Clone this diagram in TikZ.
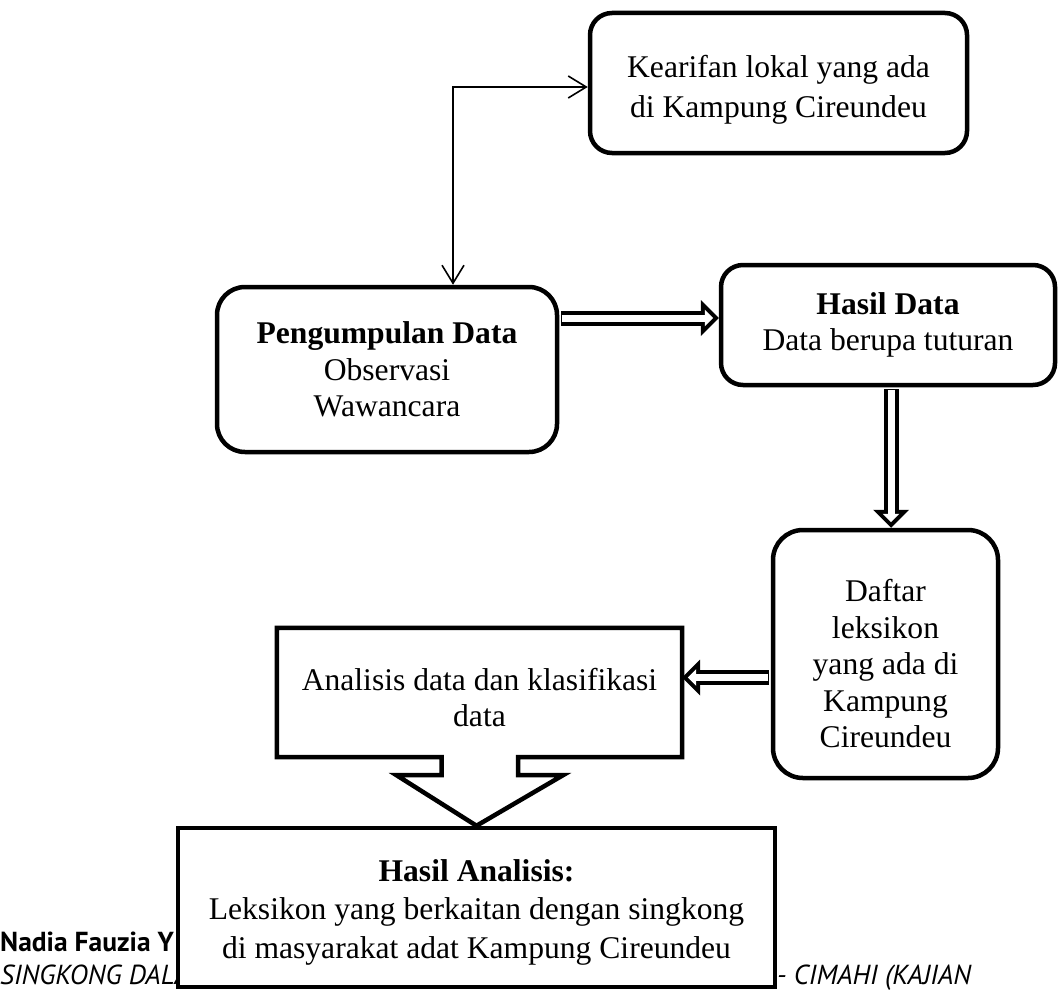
\documentclass[tikz,border=0pt]{standalone}
\usepackage{fontspec}
\setmainfont{Liberation Serif}
\newfontfamily\footerfont{PT Sans}
\usetikzlibrary{arrows.meta}

\tikzset{
    roundbox/.style={draw, line width=4.5pt, rounded corners=22pt, align=center, inner sep=0pt},
    plainbox/.style={draw, line width=4.5pt, align=center, fill=white, inner sep=0pt},
    thinarrow/.style={line width=1.6pt, {Straight Barb[length=18pt,width=22pt]}-{Straight Barb[length=18pt,width=22pt]}},
    blockarrow/.style={
        preaction={draw=black, line width=15pt, shorten >=0pt, shorten <=2pt,
            -{Triangle[length=18pt, width=36pt, line width=0pt]}},
        draw=white, line width=7pt, shorten >=5.7pt, shorten <=2.5pt,
        -{Triangle[length=8.3pt, width=16.6pt, line width=0pt]}},
    footer/.style={font=\footerfont\fontsize{27.5}{32}\selectfont, inner sep=0pt}
}

\begin{document}
\begin{tikzpicture}[x=1pt, y=-1pt, font=\fontsize{31.6}{36.5}\selectfont]

        \useasboundingbox (0,0) rectangle (1059,990);

        % Page footer behind the diagram
        \node[footer, anchor=base west] (author) at (0,951) {\bfseries Nadia Fauzia Y};
        \node[footer, anchor=base west] (titleleft) at (0,984) {\itshape SINGKONG DALA};
        \node[footer, anchor=base west] (titleright) at (777,984) {\itshape - CIMAHI (KAJIAN};

        % Defining the boxes
        \node[roundbox, minimum width=377pt, minimum height=140pt] (kearifan) at (778.5,83)
            {\rule{0pt}{36pt}Kearifan lokal yang ada\\[3.5pt]di Kampung Cireundeu};

        \node[roundbox, rounded corners=28pt, minimum width=340pt, minimum height=165pt] (pengumpulan) at (387,369.5)
            {\textbf{Pengumpulan Data}\\Observasi\\Wawancara};

        \node[roundbox, minimum width=334pt, minimum height=120pt] (hasildata) at (888,325)
            {\textbf{Hasil Data}\\Data berupa tuturan};

        \node[roundbox, rounded corners=30pt, minimum width=225pt, minimum height=248pt] (daftar) at (885.5,654)
            {\rule{0pt}{42pt}Daftar\\leksikon\\yang ada di\\Kampung\\Cireundeu};

        \node[align=center, inner sep=0pt, minimum width=405pt, minimum height=129pt] (analisis) at (479.5,692.5)
            {\rule{0pt}{32pt}Analisis data dan klasifikasi\\data};

        \node[plainbox, minimum width=597pt, minimum height=159pt] (hasilanalisis) at (476.5,907.5)
            {\rule{0pt}{31pt}\textbf{Hasil Analisis:}\\[2pt]Leksikon yang berkaitan dengan singkong\\[2pt]di masyarakat adat Kampung Cireundeu};

        % Outline of the analisis box with its down arrow
        \draw[line width=4.5pt, line join=miter] (analisis.south west) -- (analisis.north west)
            -- (analisis.north east) -- (analisis.south east)
            -- ([xshift=38.5pt]analisis.south) -- ([xshift=38.5pt,yshift=-18pt]analisis.south)
            -- ([xshift=83.5pt,yshift=-18pt]analisis.south) -- (hasilanalisis.north)
            -- ([xshift=-83pt,yshift=-18pt]analisis.south) -- ([xshift=-38pt,yshift=-18pt]analisis.south)
            -- ([xshift=-38pt]analisis.south) -- cycle;

        % Defining the links between the boxes
        \draw[thinarrow] ([yshift=-4pt]kearifan.west) -| ([xshift=66pt]pengumpulan.north);
        \draw[blockarrow] ([yshift=7pt]hasildata.west -| pengumpulan.east) -- ([yshift=7pt]hasildata.west);
        \draw[blockarrow] ([xshift=3pt]hasildata.south) -- ([xshift=3pt]hasildata.south |- daftar.north);
        \draw[blockarrow] ([yshift=15pt]analisis.east -| daftar.west) -- ([yshift=15pt]analisis.east);

\end{tikzpicture}
\end{document}
